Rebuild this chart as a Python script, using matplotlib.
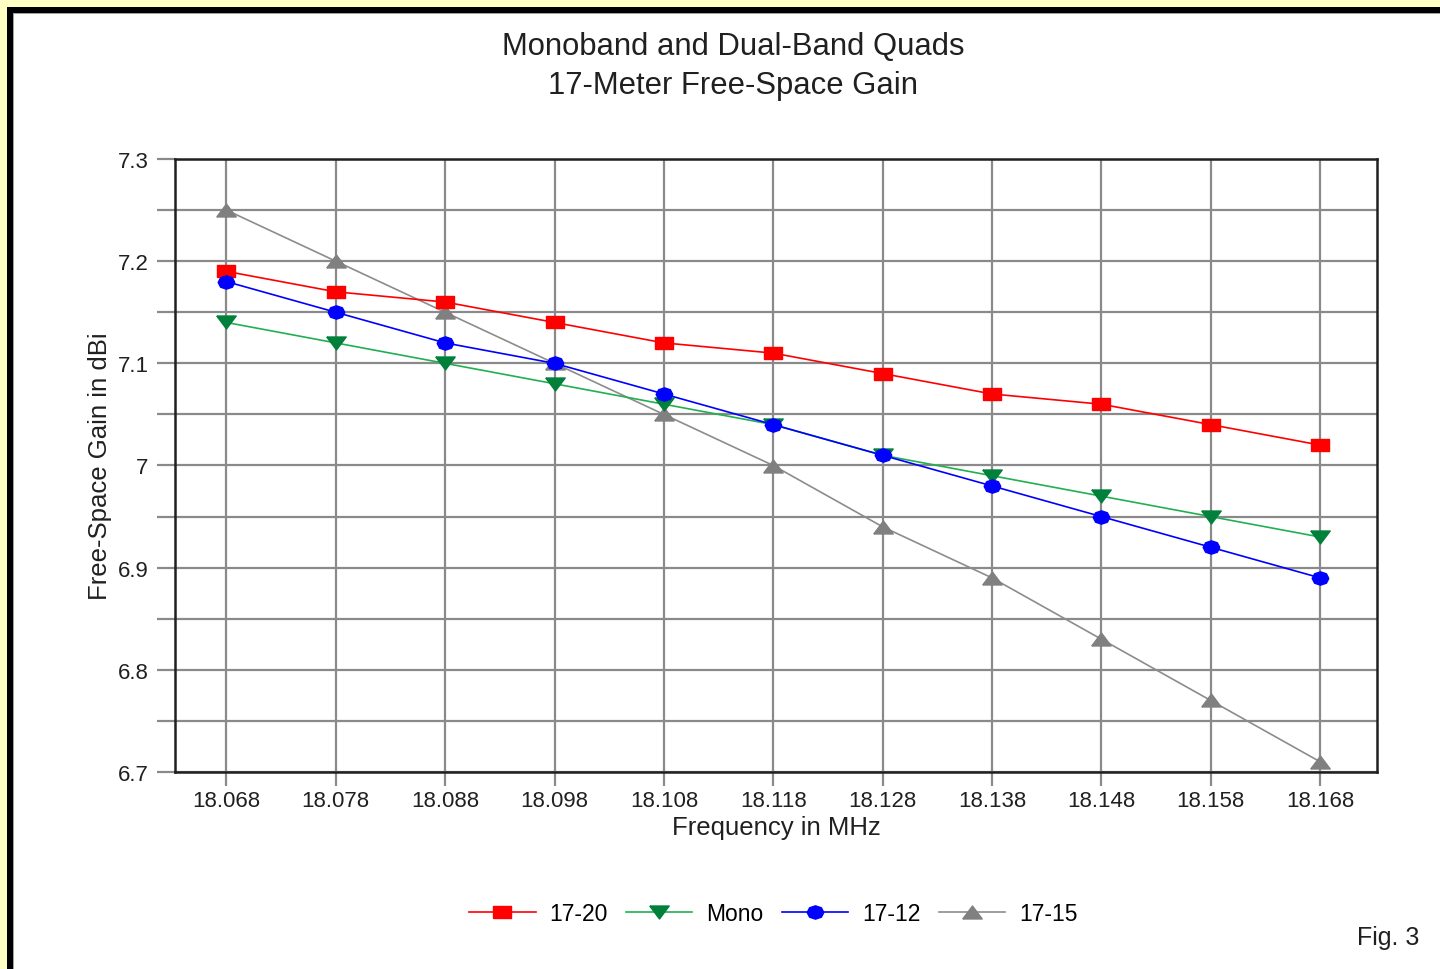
import matplotlib.pyplot as plt
from matplotlib.patches import Rectangle
from matplotlib.ticker import MultipleLocator, FuncFormatter
import numpy as np

freqs = [18.068, 18.078, 18.088, 18.098, 18.108, 18.118,
         18.128, 18.138, 18.148, 18.158, 18.168]
gain_1720 = [7.19, 7.17, 7.16, 7.14, 7.12, 7.11, 7.09, 7.07, 7.06, 7.04, 7.02]
gain_mono = [7.14, 7.12, 7.10, 7.08, 7.06, 7.04, 7.01, 6.99, 6.97, 6.95, 6.93]
gain_1712 = [7.18, 7.15, 7.12, 7.10, 7.07, 7.04, 7.01, 6.98, 6.95, 6.92, 6.89]
gain_1715 = [7.25, 7.20, 7.15, 7.10, 7.05, 7.00, 6.94, 6.89, 6.83, 6.77, 6.71]
labels = ['17-20', 'Mono', '17-12', '17-15']

plt.rcParams['font.family'] = ['Liberation Sans', 'DejaVu Sans']

# wide, flat markers
sq = [(-1.5, -1), (1.5, -1), (1.5, 1), (-1.5, 1), (-1.5, -1)]
t = np.linspace(0, 2 * np.pi, 9)
oval = list(zip(1.25 * np.cos(t), 1.0 * np.sin(t)))
tri_up = [(-1.5, -1), (1.5, -1), (0, 1), (-1.5, -1)]
tri_dn = [(-1.5, 1), (1.5, 1), (0, -1), (-1.5, 1)]

fig = plt.figure(figsize=(14.4, 9.7), dpi=100)
fig.patch.set_facecolor('#ffffc4')
fig.patches.append(Rectangle((7 / 1440, -0.1), 2, 1.1 - 8 / 970,
                             transform=fig.transFigure, facecolor='black',
                             edgecolor='none', zorder=-3))
fig.patches.append(Rectangle((13 / 1440, -0.1), 2, 1.1 - 14 / 970,
                             transform=fig.transFigure, facecolor='#a0a0a0',
                             edgecolor='none', zorder=-2))
fig.patches.append(Rectangle((14 / 1440, -0.1), 2, 1.1 - 15 / 970,
                             transform=fig.transFigure, facecolor='white',
                             edgecolor='none', zorder=-1))

ax = fig.add_axes([175 / 1440, 1 - 773 / 970, 1202 / 1440, 613 / 970])

ax.plot(freqs, gain_1720, color='#ff0000', lw=1.2, marker=sq, ms=13,
        mfc='#ff0000', mec='#ff0000', label=labels[0], zorder=5)
ax.plot(freqs, gain_mono, color='#20b050', lw=1.2, marker=tri_dn, ms=14,
        mfc='#00803a', mec='#00803a', label=labels[1], zorder=4)
ax.plot(freqs, gain_1712, color='#0000ff', lw=1.2, marker=oval, ms=12,
        mfc='#0000ff', mec='#0000ff', label=labels[2], zorder=6)
ax.plot(freqs, gain_1715, color='#8c8c8c', lw=1.2, marker=tri_up, ms=14,
        mfc='#808080', mec='#808080', label=labels[3], zorder=3)

ax.set_xlim(18.0633, 18.1732)
ax.set_ylim(6.7, 7.3)
ax.set_xticks(freqs)
ax.set_xticklabels([f'{f:.3f}' for f in freqs])
ax.yaxis.set_major_locator(MultipleLocator(0.1))
ax.yaxis.set_minor_locator(MultipleLocator(0.05))
ax.yaxis.set_major_formatter(FuncFormatter(lambda v, p: f'{v:.1f}'.rstrip('0').rstrip('.')))

ax.grid(True, which='both', color='#8a8a8a', lw=1.6)
ax.set_axisbelow(True)
for s in ax.spines.values():
    s.set_color('#202020')
    s.set_linewidth(1.8)
ax.tick_params(axis='both', which='both', color='#8a8a8a', width=1.6,
               labelsize=16, labelcolor='#202020')
ax.tick_params(axis='y', which='both', length=13, pad=6)
ax.tick_params(axis='x', length=10, pad=3)

ax.set_xlabel('Frequency in MHz', fontsize=18.5, color='#202020', labelpad=3)
ax.set_ylabel('Free-Space Gain in dBi', fontsize=18.5, color='#202020', labelpad=4)

fig.text(0.509, 0.952, 'Monoband and Dual-Band Quads', ha='center', va='center',
         fontsize=22.3, color='#202020')
fig.text(0.509, 0.911, '17-Meter Free-Space Gain', ha='center', va='center',
         fontsize=22.3, color='#202020')

fig.legend(loc='center', bbox_to_anchor=(0.537, 0.057), ncol=4, frameon=False,
           fontsize=16.5, handlelength=2.9, handletextpad=0.6, columnspacing=0.8)

fig.text(0.964, 0.033, 'Fig. 3', ha='center', va='center', fontsize=18,
         color='#202020')

fig.savefig('out.png', dpi=100, facecolor=fig.get_facecolor())
